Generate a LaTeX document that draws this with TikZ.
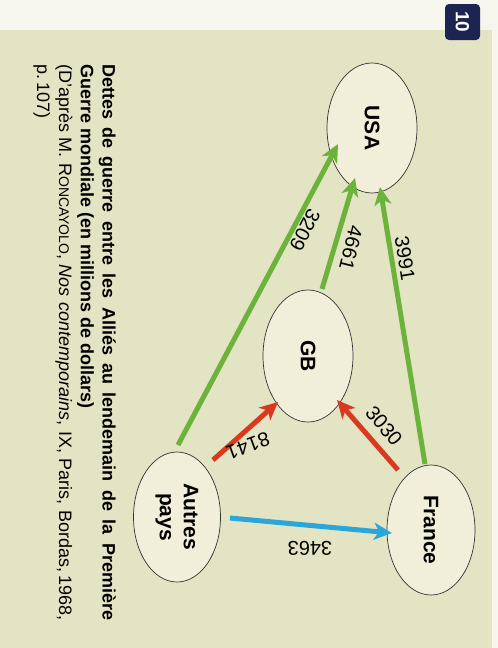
\documentclass[tikz,border=0pt]{standalone}
\usepackage{fontspec}
\setmainfont{Liberation Sans}
\usetikzlibrary{arrows.meta,calc,shapes.geometric}
\definecolor{paper}{HTML}{F6F5EE}
\definecolor{panel}{HTML}{E3E4C4}
\definecolor{ellfill}{HTML}{F1EFDA}
\definecolor{navy}{HTML}{1C2452}
\definecolor{agreen}{HTML}{6BB33A}
\definecolor{ared}{HTML}{D8391F}
\definecolor{ablue}{HTML}{2BA6D9}
\tikzset{
  country/.style={ellipse, draw=black!80, line width=0.7pt, fill=ellfill,
    minimum width=#1, rotate=-90, font=\fontsize{21}{24}\selectfont\bfseries, align=center, inner sep=0pt},
  flow/.style={line width=5pt, -{Stealth[length=18pt,width=17pt,inset=5pt]}},
  gflow/.style={flow, draw=agreen},
  rflow/.style={flow, draw=ared},
  bflow/.style={flow, draw=ablue},
  num/.style={font=\fontsize{20}{22}\selectfont, inner sep=0pt}
}
\begin{document}
\begin{tikzpicture}[x=1pt,y=-1pt]
\useasboundingbox (0,0) rectangle (498,648);
\fill[paper] (0,0) rectangle (498,648);
\fill[panel] (0,30) rectangle (492,648);
% badge
\node[fill=navy, rounded corners=4pt, minimum width=35pt, minimum height=36pt, inner sep=0pt] (badge) at (462.5,22) {};
\node[rotate=-90, text=white, font=\fontsize{19}{20}\selectfont\bfseries, inner sep=0pt] (badgetxt) at (badge) {10};
% countries
\node[country=130pt, minimum height=90pt] (usa) at (372,128) {USA};
\node[country=132pt, minimum height=90pt] (gb) at (308,356) {GB};
\node[country=130pt, minimum height=87pt] (autres) at (177,517) {Autres\\pays};
\node[country=130pt, minimum height=88pt] (france) at (431,530) {France};
% flows
\draw[gflow] ($(autres)+(1,-72)$) -- ($(usa)+(-34,16)$);
\draw[gflow] ($(gb)+(14,-67)$) -- ($(usa)+(-17,50)$);
\draw[gflow] ($(france)+(-6,-66)$) -- ($(usa)+(8,59)$);
\draw[rflow] ($(autres)+(36,-57)$) -- ($(gb)+(-30,46)$);
\draw[rflow] ($(france)+(-33,-60)$) -- ($(gb)+(29,44)$);
\draw[bflow] ($(autres)+(53,1)$) -- ($(france)+(-39,3)$);
% labels
\node[num, rotate=-117] (l3209) at (305,230) {3209};
\node[num, rotate=-104] (l4661) at (351,248) {4661};
\node[num, rotate=-81] (l3991) at (405,258) {3991};
\node[num, rotate=-160] (l8141) at (248,446) {8141};
\node[num, rotate=-50] (l3030) at (384,426) {3030};
\node[num, rotate=180] (l3463) at (310,548) {3463};
% caption
\node[rotate=-90, anchor=north west, text width=556pt, align=justify, inner sep=0pt,
  font=\fontsize{18}{21.8}\selectfont] (caption) at (116,64)
  {\textbf{Dettes de guerre entre les Alliés au lendemain de la Première\linebreak Guerre mondiale (en millions de dollars)}\\
   (D’après M. R{\fontsize{14}{16}\selectfont ONCAYOLO}, \textit{Nos contemporains}, IX, Paris, Bordas,\,1968,\linebreak p.\,107)};
\end{tikzpicture}
\end{document}
